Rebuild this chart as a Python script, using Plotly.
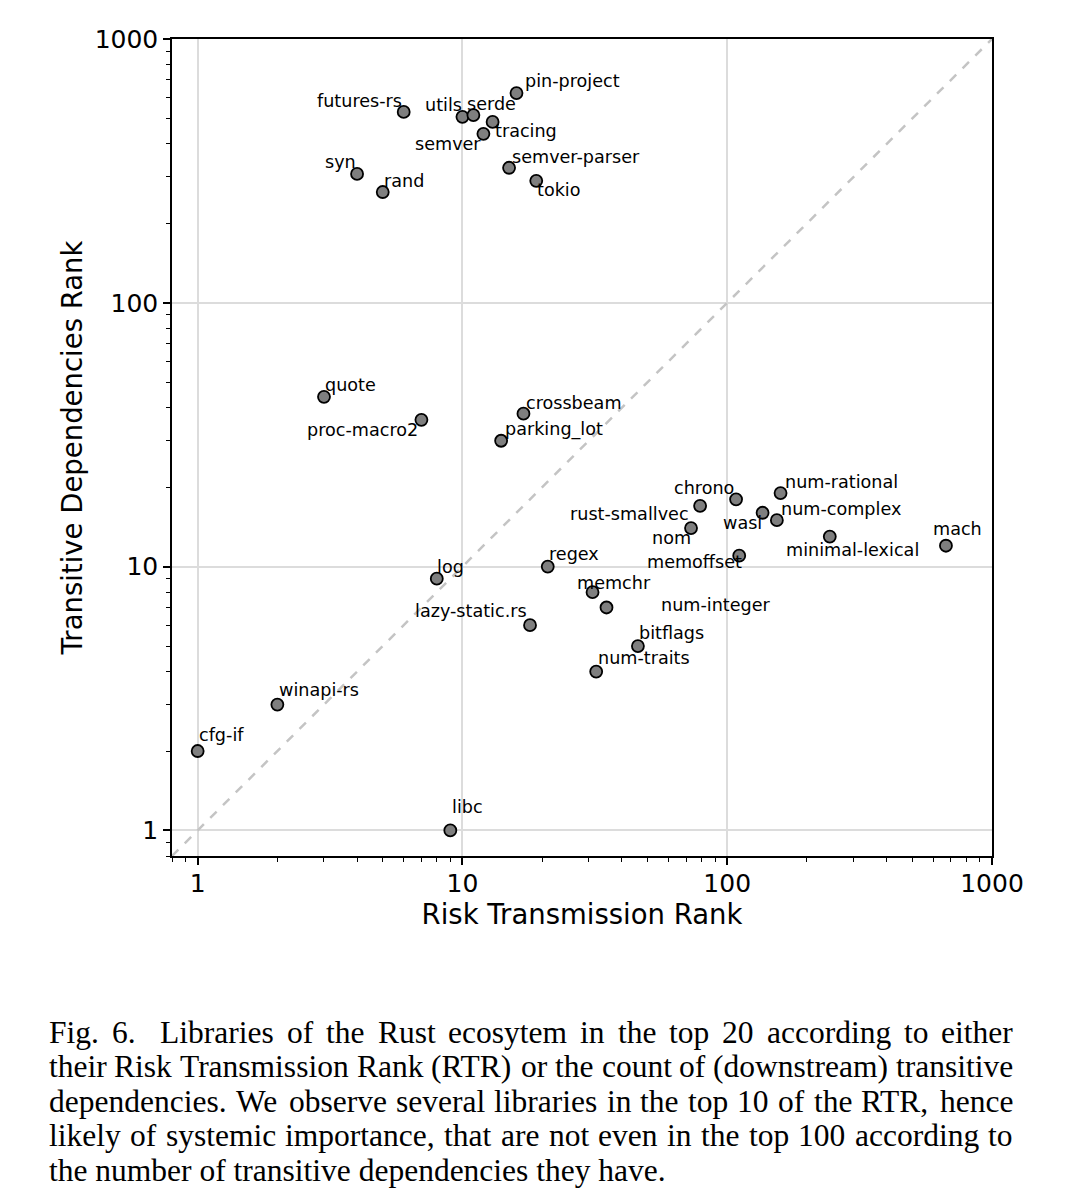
import numpy as np
import plotly.graph_objects as go

# ---- data ----
libraries = ["cfg-if", "winapi-rs", "libc", "log", "lazy-static.rs", "regex", "memchr",
             "num-integer", "bitflags", "num-traits", "memoffset", "nom", "rust-smallvec",
             "chrono", "wasi", "num-complex", "num-rational", "minimal-lexical", "mach",
             "crossbeam", "parking_lot", "quote", "proc-macro2", "syn", "rand", "futures-rs",
             "utils", "serde", "tracing", "semver", "pin-project", "semver-parser", "tokio"]
risk_rank = [1, 2, 9, 8, 18, 21, 31, 35, 46, 32, 111, 73, 79, 108, 136, 154, 159, 244, 670,
             17, 14, 3, 7, 4, 5, 6, 10, 11, 13, 12, 16, 15, 19]
trans_rank = [2, 3, 1, 9, 6, 10, 8, 7, 5, 4, 11, 14, 17, 18, 16, 15, 19, 13, 12,
              38, 30, 44, 36, 308, 263, 529, 507, 515, 485, 437, 624, 325, 290]
tick_vals = [1, 10, 100, 1000]
tick_text = ["1", "10", "100", "1000"]
minor_vals = [m * 10 ** e for e in range(-1, 3) for m in range(2, 10) if 0.79 < m * 10 ** e < 1000]
caption_lines = [
    "Fig. 6.  Libraries of the Rust ecosytem in the top 20 according to either",
    "their Risk Transmission Rank (RTR) or the count of (downstream) transitive",
    "dependencies. We observe several libraries in the top 10 of the RTR, hence",
    "likely of systemic importance, that are not even in the top 100 according to",
    "the number of transitive dependencies they have.",
]

# ---- label pixel offsets (style) ----
label_offsets = {
    "cfg-if": (24, 16), "winapi-rs": (42, 15), "libc": (17, 23), "log": (14, 12),
    "lazy-static.rs": (-59, 14), "regex": (26, 13), "memchr": (21, 9),
    "num-integer": (109, 2), "bitflags": (34, 13), "num-traits": (48, 14),
    "memoffset": (-45, -6), "nom": (-20, -10), "rust-smallvec": (-71, -8),
    "chrono": (-32, 11), "wasi": (-20, -10), "num-complex": (64, 11),
    "num-rational": (61, 11), "minimal-lexical": (23, -13), "mach": (12, 17),
    "crossbeam": (51, 11), "parking_lot": (53, 11), "quote": (27, 12),
    "proc-macro2": (-59, -10), "syn": (-17, 12), "rand": (21, 11),
    "futures-rs": (-44, 11), "utils": (-19, 12), "serde": (18, 11),
    "tracing": (33, -9), "semver": (-35, -10), "pin-project": (56, 12),
    "semver-parser": (67, 11), "tokio": (23, -9),
}

lo, hi = 0.8, 1000
FONT = "DejaVu Sans"
SERIF = "Liberation Serif"

# page is offset by the 8px body margin
OFF = 8
W, H = 1065, 1200
ml, mr, mt, mb = 172 - OFF, 73 + OFF, 39 - OFF, 344 + OFF
pw, ph = W - ml - mr, H - mt - mb


def px_to_paper(x, y):
    return (x - OFF - ml) / pw, (H - mb - (y - OFF)) / ph


fig = go.Figure()
fig.add_trace(go.Scatter(
    x=[lo, hi], y=[lo, hi], mode="lines",
    line=dict(color="#c4c4c4", width=2.5, dash="dash"),
    hoverinfo="skip", showlegend=False))
fig.add_trace(go.Scatter(
    x=risk_rank, y=trans_rank, mode="markers",
    marker=dict(size=12, color="#7f7f7f", line=dict(color="black", width=1.8)),
    text=libraries, showlegend=False))

for name, xv, yv in zip(libraries, risk_rank, trans_rank):
    dx, dy = label_offsets[name]
    fig.add_annotation(x=np.log10(xv), y=np.log10(yv), xref="x", yref="y",
                       text=name, showarrow=False, xshift=dx, yshift=dy,
                       xanchor="center", yanchor="middle",
                       font=dict(family=FONT, size=17.6, color="black"))

axis_common = dict(
    type="log", range=[np.log10(lo), np.log10(hi)],
    tickmode="array", tickvals=tick_vals, ticktext=tick_text,
    ticks="outside", ticklen=7, tickwidth=1.5, tickcolor="black",
    showgrid=True, gridcolor="#dcdcdc", gridwidth=1.5,
    showline=True, linecolor="black", linewidth=1.5, mirror=True,
    zeroline=False,
    tickfont=dict(family=FONT, size=25, color="black"),
    minor=dict(tickmode="array", tickvals=minor_vals, ticks="outside", ticklen=4,
               tickwidth=1, tickcolor="black", showgrid=False),
)

fig.update_xaxes(**axis_common, ticklabelstandoff=-3,
                 title=dict(text="Risk Transmission Rank",
                            font=dict(family=FONT, size=27.5, color="black"), standoff=7))
fig.update_yaxes(**axis_common,
                 title=dict(text="Transitive Dependencies Rank",
                            font=dict(family=FONT, size=27.5, color="black"), standoff=4))

# ---- caption, justified with Times metrics ----
times_w = dict(a=444, b=500, c=444, d=500, e=444, f=333, g=500, h=500, i=278, j=278,
               k=500, l=278, m=778, n=500, o=500, p=500, q=500, r=333, s=389, t=278,
               u=500, v=500, w=722, x=500, y=500, z=444)
times_w.update({"F": 556, "L": 611, "R": 667, "T": 611, "W": 944, ".": 250, ",": 250,
                "(": 333, ")": 333, " ": 250, "-": 333})
for dgt in "0123456789":
    times_w[dgt] = 500

CAP_SIZE = 31.5
cap_left, cap_right = 47, 1011
cap_y0, cap_dy = 1032, 34.5


def word_w(wd):
    return sum(times_w.get(ch, 500) for ch in wd) / 1000 * CAP_SIZE


for i, line in enumerate(caption_lines):
    yy = cap_y0 + cap_dy * i
    if i == len(caption_lines) - 1:
        xp, yp = px_to_paper(cap_left, yy)
        fig.add_annotation(x=xp, y=yp, xref="paper", yref="paper", text=line,
                           showarrow=False, xanchor="left", yanchor="middle",
                           font=dict(family=SERIF, size=CAP_SIZE, color="black"))
        continue
    words = line.split()
    widths = [word_w(wd) for wd in words]
    # extra spacing after the "Fig. 6." label
    extra = [12 if (i == 0 and wd == "6.") else 0 for wd in words]
    gap = (cap_right - cap_left - sum(widths) - sum(extra)) / (len(words) - 1)
    xpos = cap_left
    for wd, ww, ex in zip(words, widths, extra):
        xp, yp = px_to_paper(xpos, yy)
        fig.add_annotation(x=xp, y=yp, xref="paper", yref="paper", text=wd,
                           showarrow=False, xanchor="left", yanchor="middle",
                           font=dict(family=SERIF, size=CAP_SIZE, color="black"))
        xpos += ww + gap + ex

fig.update_layout(
    width=W, height=H,
    margin=dict(l=ml, r=mr, t=mt, b=mb),
    paper_bgcolor="white", plot_bgcolor="white",
    showlegend=False,
)

fig.write_html("out.html")
